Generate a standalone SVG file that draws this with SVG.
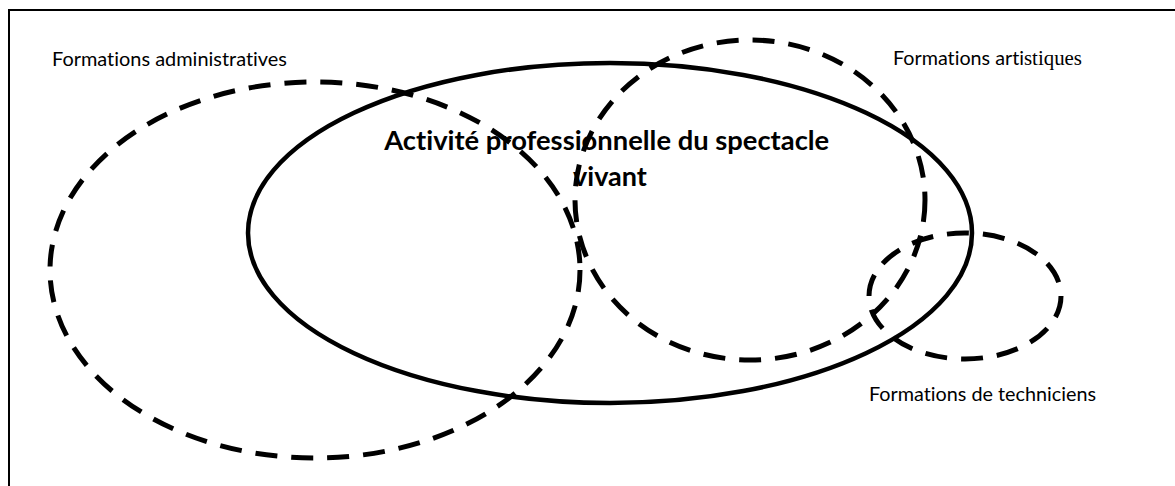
<svg xmlns="http://www.w3.org/2000/svg" width="1175" height="486" viewBox="0 0 1175 486">
  <style>
    text { font-variant-ligatures: none; font-feature-settings: "liga" 0, "clig" 0; }
    .lbl { font-family: Lato, "Open Sans", "Liberation Sans", sans-serif; font-size: 20px; fill: #000; }
    .serif { font-family: "Liberation Serif", serif; }
    .title { font-family: Lato, "Open Sans", "Liberation Sans", sans-serif; font-size: 27px; font-weight: bold; fill: #000; }
    .solid { fill: none; stroke: #000; stroke-width: 4.5; }
    .dash { fill: none; stroke: #000; stroke-width: 5; stroke-dasharray: 22 14; }
  </style>
  <rect x="0" y="0" width="1175" height="486" fill="#fff"/>
  <rect id="frame" x="9" y="10" width="1200" height="520" fill="none" stroke="#000" stroke-width="2"/>

  <g id="node-activite">
    <text class="title" text-anchor="middle">
      <tspan x="610" y="150" textLength="445" lengthAdjust="spacingAndGlyphs">Activité professionnelle du spectacle</tspan>
      <tspan x="610" y="186">vivant</tspan>
    </text>
    <ellipse class="solid" cx="610" cy="233" rx="362" ry="170"/>
  </g>

  <g id="node-administratives">
    <text class="lbl" x="52" y="66" textLength="235" lengthAdjust="spacingAndGlyphs">Formations administratives</text>
    <ellipse class="dash" cx="315" cy="270" rx="265" ry="188"/>
  </g>

  <g id="node-artistiques">
    <text class="lbl" y="65"><tspan x="893" textLength="131" lengthAdjust="spacingAndGlyphs">Formations arti</tspan><tspan class="serif" x="1024" textLength="58" lengthAdjust="spacingAndGlyphs">stiques</tspan></text>
    <ellipse class="dash" cx="750" cy="200" rx="175" ry="160"/>
  </g>

  <g id="node-techniciens">
    <text class="lbl" x="869" y="401" textLength="227" lengthAdjust="spacingAndGlyphs">Formations de techniciens</text>
    <ellipse class="dash" cx="965" cy="296" rx="96" ry="63"/>
  </g>

  <g id="connectors"></g>
</svg>
